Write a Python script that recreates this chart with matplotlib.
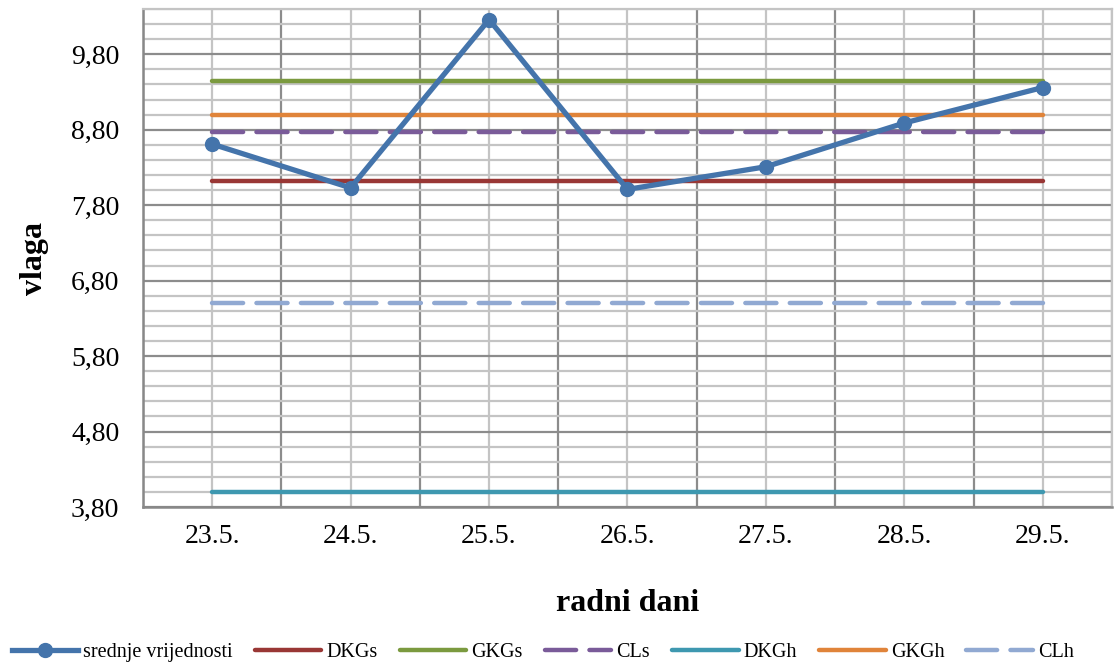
import matplotlib.pyplot as plt
from matplotlib.ticker import FixedLocator, FuncFormatter
import numpy as np

plt.rcParams['font.family'] = ['Liberation Serif', 'DejaVu Serif']

# podaci
dani = ['23.5.', '24.5.', '25.5.', '26.5.', '27.5.', '28.5.', '29.5.']
srednje = [8.61, 8.03, 10.26, 8.01, 8.31, 8.89, 9.36]
DKGs = 8.12
GKGs = 9.45
CLs = 8.77
DKGh = 4.00
GKGh = 9.00
CLh = 6.50

x = np.arange(len(dani))

fig = plt.figure(figsize=(11.19, 6.64), dpi=100)
ax = fig.add_axes([0.1278, 0.2364, 0.8659, 0.75])

n = len(dani)
ax.plot(x, [DKGs] * n, color='#993735', lw=3.2, solid_capstyle='round', label='DKGs', zorder=3)
ax.plot(x, [GKGs] * n, color='#7b9a3f', lw=3.2, solid_capstyle='round', label='GKGs', zorder=3)
ax.plot(x, [CLs] * n, color='#7a5b99', lw=3.2, dashes=(7, 3), dash_capstyle='round', label='CLs', zorder=3)
ax.plot(x, [DKGh] * n, color='#3e98b0', lw=3.2, solid_capstyle='round', label='DKGh', zorder=3)
ax.plot(x, [GKGh] * n, color='#e0843a', lw=3.2, solid_capstyle='round', label='GKGh', zorder=3)
ax.plot(x, [CLh] * n, color='#91a9d2', lw=3.2, dashes=(7, 3), dash_capstyle='round', label='CLh', zorder=3)
ax.plot(x, srednje, color='#4474ab', lw=3.8, marker='o', markersize=10,
        label='srednje vrijednosti', zorder=4)

ax.set_xlim(-0.5, n - 0.5)
ax.set_ylim(3.80, 10.40)

# mreža
ax.yaxis.set_major_locator(FixedLocator(np.arange(3.80, 10.0, 1.0)))
ax.yaxis.set_minor_locator(FixedLocator(np.arange(3.80, 10.41, 0.2)))
ax.yaxis.set_major_formatter(FuncFormatter(lambda v, p: f'{v:.2f}'.replace('.', ',')))
ax.set_xticks(x)
ax.set_xticklabels(dani)
ax.xaxis.set_minor_locator(FixedLocator(np.arange(-0.5, n, 1.0)))

ax.grid(which='minor', color='#c4c4c4', lw=1.6)
ax.grid(which='major', axis='y', color='#8c8c8c', lw=1.6)
ax.grid(which='major', axis='x', color='#c4c4c4', lw=1.6)
ax.grid(which='minor', axis='x', color='#8c8c8c', lw=1.6)
ax.set_axisbelow(True)

ax.tick_params(which='both', length=0, labelsize=20)
ax.tick_params(axis='x', pad=12)
ax.tick_params(axis='y', pad=17)

for s in ['left', 'bottom']:
    ax.spines[s].set_color('#888888')
    ax.spines[s].set_linewidth(1.8)
for s in ['top', 'right']:
    ax.spines[s].set_color('#c4c4c4')
    ax.spines[s].set_linewidth(1.6)

ax.set_xlabel('radni dani', fontsize=23, fontweight='bold', labelpad=29)
ax.set_ylabel('vlaga', fontsize=23, fontweight='bold', labelpad=16)

h, l = ax.get_legend_handles_labels()
order = [6, 0, 1, 2, 3, 4, 5]
fig.legend([h[i] for i in order], [l[i] for i in order], loc='lower center',
           bbox_to_anchor=(0.485, -0.025), ncol=7, frameon=False, fontsize=14.5,
           handlelength=3.3, columnspacing=1.1, handletextpad=0.25)

fig.savefig('out.png', dpi=100)
